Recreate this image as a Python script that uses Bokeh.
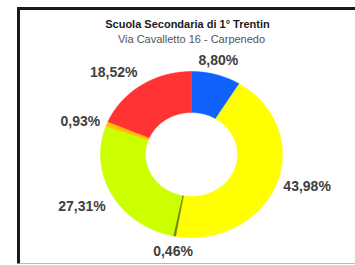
import numpy as np
from bokeh.plotting import figure
from bokeh.models import Range1d, BoxAnnotation, Label, ColumnDataSource
from bokeh.core.properties import value
from bokeh.embed import file_html
from bokeh.resources import INLINE

# ---- data ----
title_text = "Scuola Secondaria di 1° Trentin"
subtitle_text = "Via Cavalletto 16 - Carpenedo"
labels = ["8,80%", "43,98%", "0,46%", "27,31%", "0,93%", "18,52%"]
values = [8.80, 43.98, 0.46, 27.31, 0.93, 18.52]
colors = ["#0F62FE", "#FFFF00", "#6E8C00", "#CCFF00", "#FFC000", "#FF3333"]

# ---- layout parameters (pixel-like data units) ----
W, H = 355, 265
cx, cy = 191, 111
rx_o, ry_o = 91, 83
rx_i, ry_i = 46, 42
lab_k = 1.08

p = figure(width=W, height=H, output_backend="svg", toolbar_location=None,
           x_range=Range1d(0, W), y_range=Range1d(0, H),
           min_border_left=0, min_border_right=0, min_border_top=0,
           min_border_bottom=0)
p.axis.visible = False
p.grid.visible = False
p.outline_line_color = None
p.background_fill_color = "white"
p.border_fill_color = "white"

vals = np.array(values)
frac = vals / vals.sum()
ends = np.cumsum(frac)
starts = ends - frac
# clockwise from 12 o'clock
a0 = np.pi / 2 - 2 * np.pi * starts
a1 = np.pi / 2 - 2 * np.pi * ends

xs, ys = [], []
for s, e in zip(a0, a1):
    t = np.linspace(s, e, max(4, int(abs(e - s) * 60)))
    ox = cx + rx_o * np.cos(t); oy = cy + ry_o * np.sin(t)
    ix = cx + rx_i * np.cos(t[::-1]); iy = cy + ry_i * np.sin(t[::-1])
    xs.append(np.concatenate([ox, ix]).tolist())
    ys.append(np.concatenate([oy, iy]).tolist())

p.patches(xs, ys, fill_color=colors, line_color=colors, line_width=0.5)

mid = (a0 + a1) / 2
lx = cx + rx_o * lab_k * np.cos(mid)
ly = cy + ry_o * lab_k * np.sin(mid)
aligns = ["left" if c > 0.3 else ("right" if c < -0.3 else "center") for c in np.cos(mid)]
bases = ["bottom" if s > 0.4 else ("top" if s < -0.4 else "middle") for s in np.sin(mid)]
src = ColumnDataSource(dict(x=lx, y=ly, t=labels, a=aligns, b=bases))
p.text("x", "y", text="t", source=src, text_align="a", text_baseline="b",
       text_font=value("Liberation Sans"), text_font_style="bold",
       text_font_size="14px", text_color="#404040")

p.add_layout(Label(x=187, y=242, text=title_text, text_align="center",
                   text_baseline="middle", text_font="Liberation Sans",
                   text_font_style="bold", text_font_size="11px",
                   text_color="#1a1a1a"))
p.add_layout(Label(x=191, y=227, text=subtitle_text, text_align="center",
                   text_baseline="middle", text_font="Liberation Sans",
                   text_font_size="11px", text_color="#555555"))

# chart frame: dark left/top edges, light bottom edge
p.add_layout(BoxAnnotation(left=16.5, right=19.5, bottom=2, top=258.5,
                           fill_color="#1a1a1a", fill_alpha=1, line_color=None))
p.add_layout(BoxAnnotation(left=16.5, right=W, bottom=255.5, top=258.5,
                           fill_color="#1a1a1a", fill_alpha=1, line_color=None))
p.add_layout(BoxAnnotation(left=19.5, right=W, bottom=1.5, top=2.5,
                           fill_color="#bbbbbb", fill_alpha=1, line_color=None))

open("out.html", "w").write(file_html(p, INLINE))
